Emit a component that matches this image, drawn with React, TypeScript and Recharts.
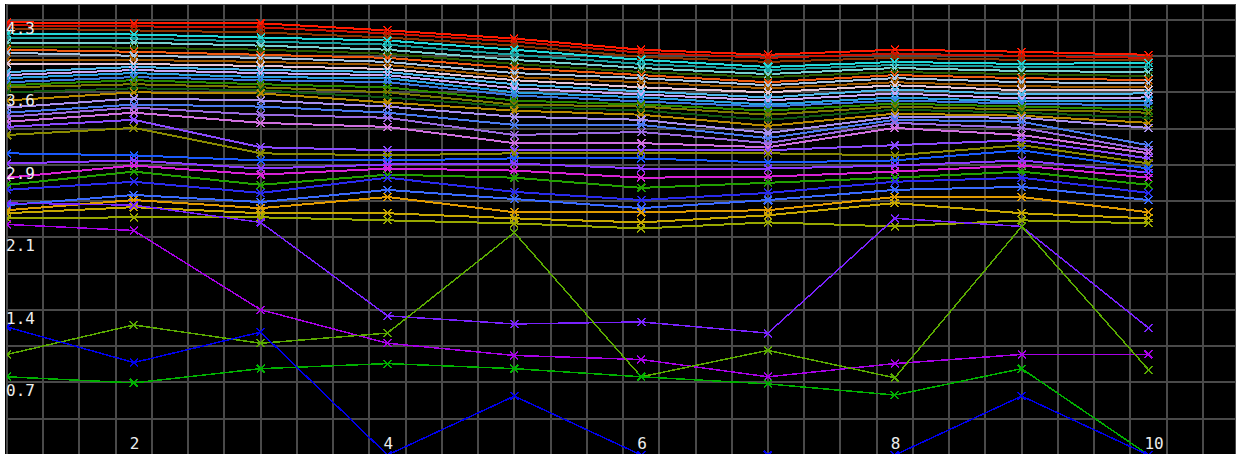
import { LineChart, Line, XAxis, YAxis, CartesianGrid } from 'recharts';

// x positions of the samples
const xValues = [1, 2, 3, 4, 5, 6, 7, 8, 9, 10];
const xLabelTicks = [2, 4, 6, 8, 10];

// grid: vertical every 2/7 unit, horizontal every 5/14 unit (labels on every other one)
const gridX = Array.from({ length: 34 }, (_, k) => 1 + (k * 2) / 7);
const gridY = [0, 0.357, 0.714, 1.071, 1.429, 1.786, 2.143, 2.5, 2.857, 3.214, 3.571, 3.929, 4.286];
const yLabelTicks = [0.714, 1.429, 2.143, 2.857, 3.571, 4.286];

// dense upper band, top to bottom
const band01 = [4.26, 4.25, 4.25, 4.18, 4.10, 3.99, 3.94, 3.99, 3.97, 3.94];
const band02 = [4.23, 4.22, 4.21, 4.15, 4.07, 3.96, 3.91, 3.95, 3.93, 3.91];
const band03 = [4.20, 4.18, 4.16, 4.11, 4.03, 3.92, 3.87, 3.91, 3.89, 3.89];
const band04 = [4.15, 4.14, 4.11, 4.08, 3.99, 3.89, 3.82, 3.87, 3.85, 3.86];
const band05 = [4.11, 4.10, 4.07, 4.04, 3.94, 3.85, 3.79, 3.84, 3.82, 3.82];
const band06 = [4.06, 4.06, 4.03, 3.99, 3.89, 3.81, 3.75, 3.81, 3.78, 3.77];
const band07 = [4.02, 4.01, 3.99, 3.95, 3.85, 3.77, 3.72, 3.77, 3.75, 3.73];
const band08 = [3.99, 3.97, 3.94, 3.91, 3.81, 3.74, 3.67, 3.74, 3.71, 3.69];
const band09 = [3.96, 3.93, 3.91, 3.87, 3.76, 3.71, 3.64, 3.71, 3.67, 3.66];
const band10 = [3.89, 3.89, 3.87, 3.84, 3.72, 3.67, 3.61, 3.67, 3.63, 3.62];
const band11 = [3.85, 3.85, 3.83, 3.80, 3.69, 3.62, 3.57, 3.64, 3.59, 3.59];
const band12 = [3.77, 3.82, 3.79, 3.77, 3.65, 3.58, 3.52, 3.60, 3.55, 3.56];
const band13 = [3.74, 3.79, 3.76, 3.74, 3.61, 3.55, 3.49, 3.56, 3.51, 3.52];
const band14 = [3.71, 3.76, 3.72, 3.71, 3.57, 3.52, 3.45, 3.52, 3.48, 3.49];
const band15 = [3.67, 3.72, 3.69, 3.67, 3.54, 3.48, 3.43, 3.49, 3.46, 3.44];
const band16 = [3.64, 3.69, 3.65, 3.62, 3.49, 3.45, 3.39, 3.46, 3.43, 3.40];
const band17 = [3.62, 3.65, 3.62, 3.57, 3.45, 3.43, 3.35, 3.43, 3.40, 3.37];
const band18 = [3.57, 3.61, 3.59, 3.52, 3.43, 3.39, 3.30, 3.40, 3.37, 3.32];
const band19 = [3.49, 3.57, 3.56, 3.47, 3.39, 3.35, 3.24, 3.36, 3.34, 3.27];
const band20 = [3.42, 3.51, 3.49, 3.43, 3.33, 3.30, 3.17, 3.33, 3.32, 3.22];
const band21 = [3.37, 3.45, 3.43, 3.37, 3.25, 3.25, 3.12, 3.30, 3.28, 3.05];
const band22 = [3.33, 3.42, 3.35, 3.32, 3.15, 3.18, 3.07, 3.27, 3.22, 3.00];
const band23 = [3.28, 3.37, 3.27, 3.23, 3.07, 3.07, 3.03, 3.22, 3.15, 2.97];
const band24 = [3.23, 3.30, 3.03, 3.00, 3.00, 3.00, 3.00, 3.05, 3.10, 2.92];
const band25 = [3.15, 3.22, 2.97, 2.95, 2.97, 2.97, 2.97, 2.95, 3.05, 2.87];
const band26 = [2.97, 2.95, 2.90, 2.90, 2.92, 2.92, 2.88, 2.90, 3.00, 2.82];
const band27 = [2.87, 2.90, 2.82, 2.86, 2.87, 2.82, 2.82, 2.85, 2.90, 2.78];
const band28 = [2.73, 2.85, 2.76, 2.82, 2.80, 2.73, 2.74, 2.79, 2.85, 2.73];
const band29 = [2.66, 2.79, 2.66, 2.76, 2.73, 2.63, 2.68, 2.73, 2.79, 2.66];
const band30 = [2.61, 2.69, 2.58, 2.73, 2.59, 2.51, 2.58, 2.69, 2.73, 2.58];
const band31 = [2.46, 2.56, 2.49, 2.61, 2.52, 2.43, 2.51, 2.61, 2.64, 2.51];
const band32 = [2.41, 2.51, 2.43, 2.54, 2.39, 2.39, 2.41, 2.54, 2.54, 2.39];
const band33 = [2.38, 2.44, 2.38, 2.38, 2.33, 2.29, 2.36, 2.48, 2.38, 2.33];
const band34 = [2.33, 2.34, 2.34, 2.31, 2.28, 2.23, 2.29, 2.25, 2.31, 2.28];

// lines that leave the band
const magentaDrop = [2.27, 2.21, 1.43, 1.10, 0.98, 0.94, 0.77, 0.90, 0.99, 0.99];
const violetDrop = [2.48, 2.46, 2.29, 1.37, 1.29, 1.31, 1.20, 2.33, 2.25, 1.25];
const yellowGreen = [0.99, 1.28, 1.10, 1.20, 2.19, 0.77, 1.03, 0.76, 2.25, 0.84];
const green = [0.77, 0.71, 0.85, 0.90, 0.85, 0.77, 0.70, 0.59, 0.85, 0.0];
const blue = [1.26, 0.91, 1.21, 0.0, 0.58, 0.0, 0.0, 0.0, 0.58, 0.0];

const seriesValues = [
  band01, band02, band03, band04, band05, band06, band07, band08, band09, band10,
  band11, band12, band13, band14, band15, band16, band17, band18, band19, band20,
  band21, band22, band23, band24, band25, band26, band27, band28, band29, band30,
  band31, band32, band33, band34,
  magentaDrop, violetDrop, yellowGreen, green, blue,
];

const seriesColors = [
  '#ff1a00', '#cc1100', '#8a3300', '#22d8d8', '#1a9f9f', '#77d0d0', '#2a5a00', '#ee5a10', '#a8c4e0', '#a05a00',
  '#e8c8d8', '#4fb8ea', '#c8a8f8', '#2aa0e0', '#3a78e0', '#2a8a00', '#7a7a00', '#115a11', '#b88a00', '#a890f0',
  '#4a7af0', '#9a6ae0', '#d070e0', '#8a4aff', '#8a8a00', '#1a5aff', '#8a3aff', '#d822d8', '#22a000', '#2a2aee',
  '#3a6aff', '#e09a00', '#c8a800', '#98a800',
  '#a800e8', '#7a22ff', '#5aaa00', '#00b000', '#0000ee',
];

const chartData = xValues.map((x, i) => {
  const row: Record<string, number> = { x };
  seriesValues.forEach((vals, s) => {
    row[`s${s}`] = vals[i];
  });
  return row;
});

const CHART_W = 1231;
const CHART_H = 451;
const PLOT_LEFT = 2;
const LABEL_FONT = '"DejaVu Sans Mono", monospace';

function crossDot(color: string) {
  return (props: any) => {
    const { cx, cy, index, dataKey } = props;
    if (cx == null || cy == null) return <g key={`${dataKey}-${index}`} />;
    const r = 4;
    return (
      <path
        key={`${dataKey}-${index}`}
        d={`M${cx - r},${cy - r}L${cx + r},${cy + r}M${cx - r},${cy + r}L${cx + r},${cy - r}`}
        stroke={color}
        strokeWidth={1.5}
        fill="none"
        shapeRendering="crispEdges"
      />
    );
  };
}

function YTick(props: any) {
  const { y, payload } = props;
  if (!yLabelTicks.includes(payload.value)) return <g />;
  return (
    <text x={PLOT_LEFT - 1} y={y + 14} fill="#eeeeee" fontSize={16} fontFamily={LABEL_FONT} textAnchor="start">
      {Number(payload.value).toFixed(1)}
    </text>
  );
}

function XTick(props: any) {
  const { x, payload } = props;
  return (
    <text x={x - 4} y={CHART_H - 6} fill="#eeeeee" fontSize={16} fontFamily={LABEL_FONT} textAnchor="start">
      {payload.value}
    </text>
  );
}

const emptyTick = () => <g />;

export default function App() {
  return (
    <div style={{ position: 'absolute', left: 0, top: 0, width: 1236, height: 454, background: '#fff', overflow: 'hidden' }}>
      <style>{`.recharts-line-curve { shape-rendering: crispEdges; } .recharts-cartesian-grid line { shape-rendering: crispEdges; }`}</style>
      <div style={{ position: 'absolute', left: 5, top: 4, width: CHART_W, height: CHART_H, background: '#000' }}>
        <LineChart width={CHART_W} height={CHART_H} data={chartData} margin={{ top: 0, right: 0, bottom: 0, left: PLOT_LEFT }}>
          <XAxis
            xAxisId="grid"
            type="number"
            dataKey="x"
            domain={[1, 10.69]}
            ticks={gridX}
            interval={0}
            allowDataOverflow
            mirror
            height={20}
            tick={emptyTick}
            axisLine={false}
            tickLine={false}
          />
          <XAxis
            xAxisId="main"
            type="number"
            dataKey="x"
            domain={[1, 10.69]}
            ticks={xLabelTicks}
            interval={0}
            allowDataOverflow
            mirror
            height={20}
            tick={(p: any) => <XTick {...p} />}
            axisLine={false}
            tickLine={false}
          />
          <YAxis
            type="number"
            domain={[0, 4.44]}
            ticks={gridY}
            interval={0}
            allowDataOverflow
            mirror
            width={40}
            tick={(p: any) => <YTick {...p} />}
            axisLine={false}
            tickLine={false}
          />
          <CartesianGrid xAxisId="grid" stroke="#4a4a4a" strokeWidth={2} />
          {seriesValues.map((_, s) => (
            <Line
              key={`s${s}`}
              xAxisId="main"
              type="linear"
              dataKey={`s${s}`}
              stroke={seriesColors[s]}
              strokeWidth={s < 34 ? 2 : 1.5}
              dot={crossDot(seriesColors[s])}
              activeDot={false}
              isAnimationActive={false}
            />
          ))}
        </LineChart>
      </div>
    </div>
  );
}
